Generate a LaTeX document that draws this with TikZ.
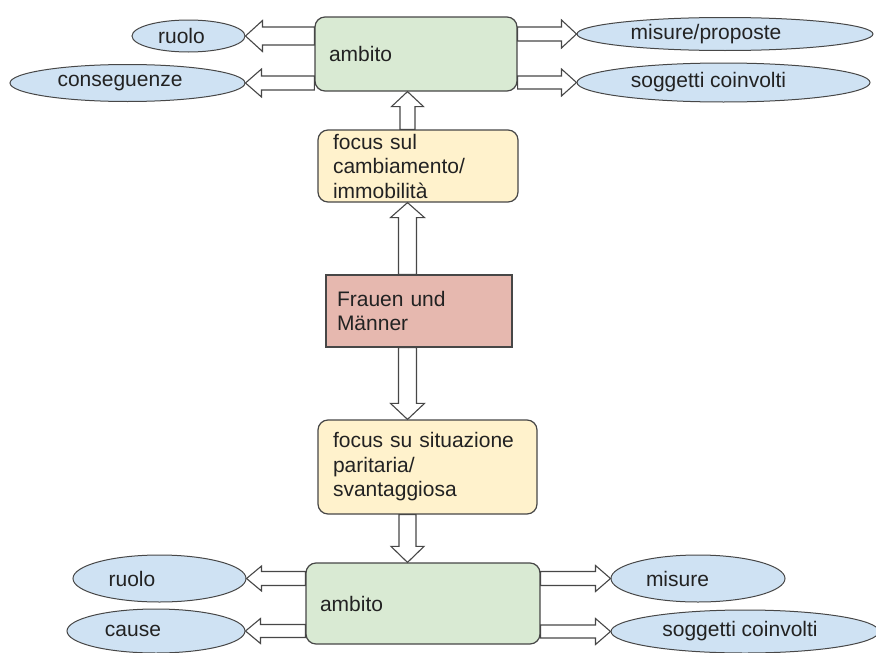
\documentclass[tikz,border=0pt]{standalone}
\usepackage{fontspec}
\setmainfont{Liberation Sans}
\usetikzlibrary{calc,shapes.geometric}

\definecolor{lineC}{HTML}{474747}
\definecolor{txtC}{HTML}{222222}
\definecolor{greenF}{HTML}{D9EAD3}
\definecolor{yellowF}{HTML}{FFF2CC}
\definecolor{pinkF}{HTML}{E6B8AF}
\definecolor{blueF}{HTML}{CFE2F3}

% hollow block arrow from #1 (tail) to #2 (tip):
% #3 half shaft width, #4 half head width, #5 head length (all in pt)
\newcommand{\blockarr}[5]{%
  \coordinate (ba-h) at ($(#2)!#5pt!(#1)$);
  \draw[blockarrow]
    ($(#1)!#3pt!90:(#2)$) -- ($(ba-h)!#3pt!-90:(#1)$) --
    ($(ba-h)!#4pt!-90:(#1)$) -- (#2) --
    ($(ba-h)!#4pt!90:(#1)$) -- ($(ba-h)!#3pt!90:(#1)$) --
    ($(#1)!#3pt!-90:(#2)$) -- cycle;}

% text set slightly left of the centre of its shape (#1 = twice the shift)
\newcommand{\lft}[2]{\hspace*{-#1pt}#2}

\tikzset{
  base/.style={font=\fontsize{21}{24.5}\selectfont, text=txtC},
  box/.style={base, draw=lineC, line width=1.2pt, rounded corners=10pt,
    align=left, inner xsep=14pt, inner ysep=0pt},
  ell/.style={base, ellipse, draw=lineC, line width=1pt, fill=blueF,
    inner sep=0pt},
  blockarrow/.style={draw=lineC, fill=white, line width=1.1pt,
    line join=miter},
}

\begin{document}
\begin{tikzpicture}[x=1pt, y=-1pt]
\useasboundingbox (0,0) rectangle (876,653);

% central column
\node[box, fill=greenF, minimum width=202pt, minimum height=74pt,
  text width=174pt] (ambitoT) at (416,54) {ambito};
\node[box, fill=yellowF, minimum width=200pt, minimum height=72pt,
  text width=170pt, inner xsep=15pt] (focusT) at (418,166)
  {focus sul\\cambiamento/\\immobilità};
\node[box, sharp corners, fill=pinkF, minimum width=186pt,
  minimum height=72pt, text width=164pt, inner xsep=11pt] (frauen)
  at (419,311) {Frauen und\\Männer};
\node[box, fill=yellowF, minimum width=219pt, minimum height=94pt,
  text width=189pt, inner xsep=15pt] (focusB) at (427.5,467)
  {focus su situazione\\paritaria/\\svantaggiosa};
\node[box, fill=greenF, minimum width=234pt, minimum height=81pt,
  text width=206pt] (ambitoB) at (423,603.5) {ambito};

% upper ellipses
\node[ell, minimum width=113pt, minimum height=32pt] (ruoloT)
  at (188.5,36) {\lft{14}{ruolo}};
\node[ell, minimum width=235pt, minimum height=37pt] (consT)
  at (127.5,83) {\lft{15}{conseguenze}};
\node[ell, minimum width=296pt, minimum height=33pt] (misureT)
  at (725,34) {\lft{38}{misure/proposte}};
\node[ell, minimum width=293pt, minimum height=39pt] (soggT)
  at (723.5,82.5) {\lft{30}{soggetti coinvolti}};

% lower ellipses
\node[ell, minimum width=173pt, minimum height=47pt] (ruoloB)
  at (159.5,578.5) {\lft{55}{ruolo}};
\node[ell, minimum width=178pt, minimum height=44pt] (causeB)
  at (156,631) {\lft{46}{cause}};
\node[ell, minimum width=174pt, minimum height=47pt] (misureB)
  at (698,578.5) {\lft{41}{misure}};
\node[ell, minimum width=268pt, minimum height=43pt] (soggB)
  at (745,631.5) {\lft{10}{soggetti coinvolti}};

% vertical axis of the column arrows
\coordinate (spine) at (407.5,0);

\coordinate (t1) at (spine |- focusT.north);
\coordinate (h1) at (spine |- ambitoT.south);
\blockarr{t1}{h1}{7.5}{16}{15}

\coordinate (t2) at (spine |- frauen.north);
\coordinate (h2) at (spine |- focusT.south);
\blockarr{t2}{h2}{9}{17}{15}

\coordinate (t3) at (spine |- frauen.south);
\coordinate (h3) at (spine |- focusB.north);
\blockarr{t3}{h3}{9}{17}{16}

\coordinate (t4) at (spine |- focusB.south);
\coordinate (h4) at (spine |- ambitoB.north);
\blockarr{t4}{h4}{8.5}{16.5}{16}

% upper side arrows
\coordinate (t5) at (ambitoT.west |- ruoloT.east);
\blockarr{t5}{ruoloT.east}{9}{15.5}{17}
\coordinate (t6) at (ambitoT.west |- consT.east);
\blockarr{t6}{consT.east}{7}{14}{16}
\coordinate (t7) at (ambitoT.east |- misureT.west);
\blockarr{t7}{misureT.west}{7}{14}{15}
\coordinate (t8) at (ambitoT.east |- soggT.west);
\blockarr{t8}{soggT.west}{6.5}{13.5}{15}

% lower side arrows
\coordinate (t9) at (ambitoB.west |- ruoloB.east);
\blockarr{t9}{ruoloB.east}{7}{12.5}{15}
\coordinate (t10) at (ambitoB.west |- causeB.east);
\blockarr{t10}{causeB.east}{6.5}{12.5}{15}
\coordinate (t11) at (ambitoB.east |- misureB.west);
\blockarr{t11}{misureB.west}{7}{13}{15}
\coordinate (t12) at (ambitoB.east |- soggB.west);
\blockarr{t12}{soggB.west}{6.5}{13}{15}
\end{tikzpicture}
\end{document}
